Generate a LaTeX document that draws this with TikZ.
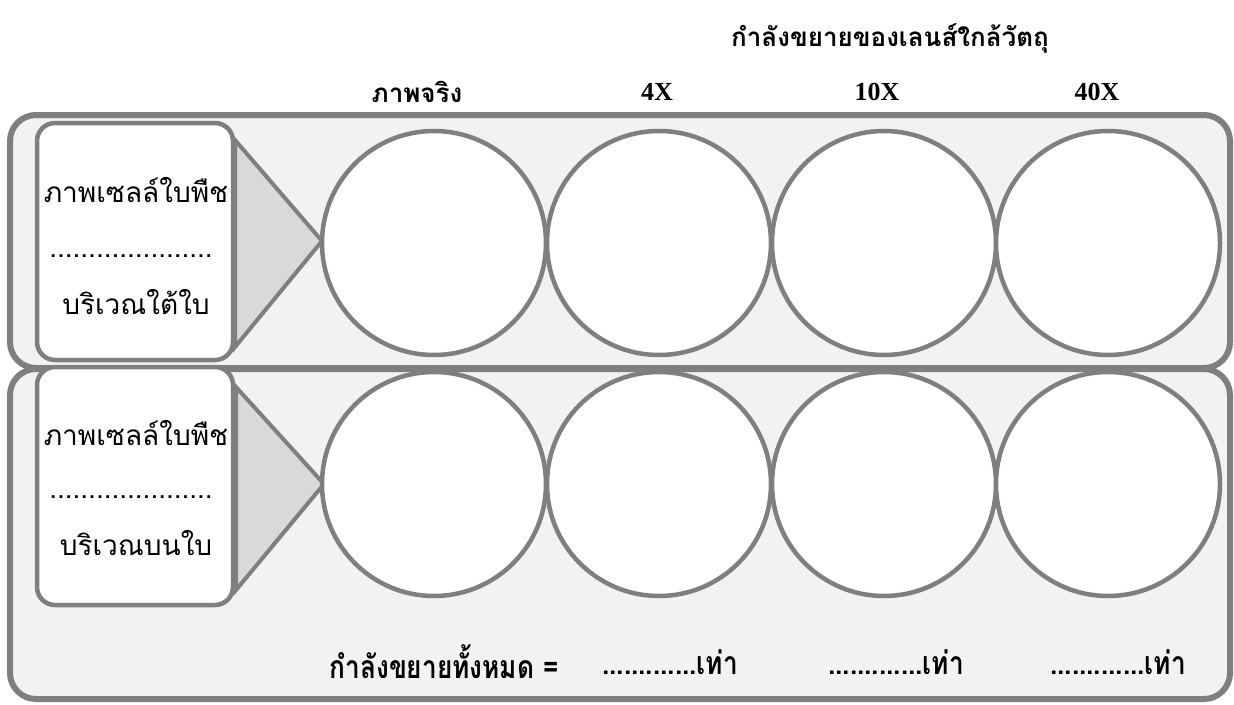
\documentclass[tikz,border=0pt]{standalone}
\usepackage{fontspec}
\setmainfont{Liberation Serif}
\newfontfamily\thai[Script=Thai]{Loma}
\definecolor{edgegray}{HTML}{7F7F7F}
\definecolor{panelgray}{HTML}{F2F2F2}
\definecolor{trigray}{HTML}{D9D9D9}
\tikzset{
  rowpanel/.style={draw=edgegray, fill=panelgray, line width=6pt, rounded corners=26pt, rectangle, inner sep=0pt},
  labelbox/.style={draw=edgegray, fill=white, line width=4.5pt, rounded corners=18pt, rectangle, inner sep=0pt, minimum width=196pt},
  lens/.style={draw=edgegray, fill=white, line width=4.5pt, circle, inner sep=0pt, minimum size=224pt},
  funnel/.style={draw=edgegray, fill=trigray, line width=4pt, line join=miter},
  hdr/.style={font=\bfseries\fontsize{26}{30}\selectfont, inner sep=0pt},
  thaihdr/.style={font=\thai\bfseries\fontsize{26}{30}\selectfont, inner sep=0pt},
  boxtxt/.style={font=\thai\fontsize{28}{32}\selectfont, inner sep=0pt},
  foottxt/.style={font=\thai\bfseries\fontsize{32}{36}\selectfont, inner sep=0pt},
}
\begin{document}
\begin{tikzpicture}[x=1pt,y=-1pt]
\useasboundingbox (0,0) rectangle (1234,704);
% panels
\node[rowpanel, minimum width=1220pt, minimum height=253pt] (row1) at (620,241.5) {};
\node[rowpanel, minimum width=1220pt, minimum height=330pt] (row2) at (620,534) {};
% funnels
\draw[funnel] (235,140) -- (322,241) -- (235,347) -- cycle;
\draw[funnel] (236,387) -- (324,484) -- (236,590) -- cycle;
% label boxes
\node[labelbox, minimum height=237pt] (lb1) at (135,241.5) {};
\node[labelbox, minimum height=238pt] (lb2) at (135,486) {};
\node[boxtxt] (t1a) at (136,190) {ภาพเซลล์ใบพืช};
\node[boxtxt] (t1b) at (131,256) {.....................};
\node[boxtxt] (t1c) at (136,302) {บริเวณใต้ใบ};
\node[boxtxt] (t2a) at (136,433) {ภาพเซลล์ใบพืช};
\node[boxtxt] (t2b) at (131,497) {.....................};
\node[boxtxt] (t2c) at (136,543) {บริเวณบนใบ};
% circles
\foreach \i/\x in {1/434,2/659,3/884,4/1108}{
  \node[lens] (a\i) at (\x,243) {};
  \node[lens] (b\i) at (\x,484) {};
}
% headers
\node[thaihdr] (title) at (890,38) {กำลังขยายของเลนส์ใกล้วัตถุ};
\node[thaihdr] (h1) at (417,92) {ภาพจริง};
\node[hdr] (h2) at (657,92) {4X};
\node[hdr] (h3) at (877,92) {10X};
\node[hdr] (h4) at (1097,92) {40X};
% footer
\node[foottxt] (f0) at (444,662) {\scalebox{0.82}[1]{กำลังขยายทั้งหมด =}};
\node[foottxt] (f1) at (670,662) {\scalebox{0.82}[1]{.............เท่า}};
\node[foottxt] (f2) at (896,662) {\scalebox{0.82}[1]{.............เท่า}};
\node[foottxt] (f3) at (1118,662) {\scalebox{0.82}[1]{.............เท่า}};
\end{tikzpicture}
\end{document}
